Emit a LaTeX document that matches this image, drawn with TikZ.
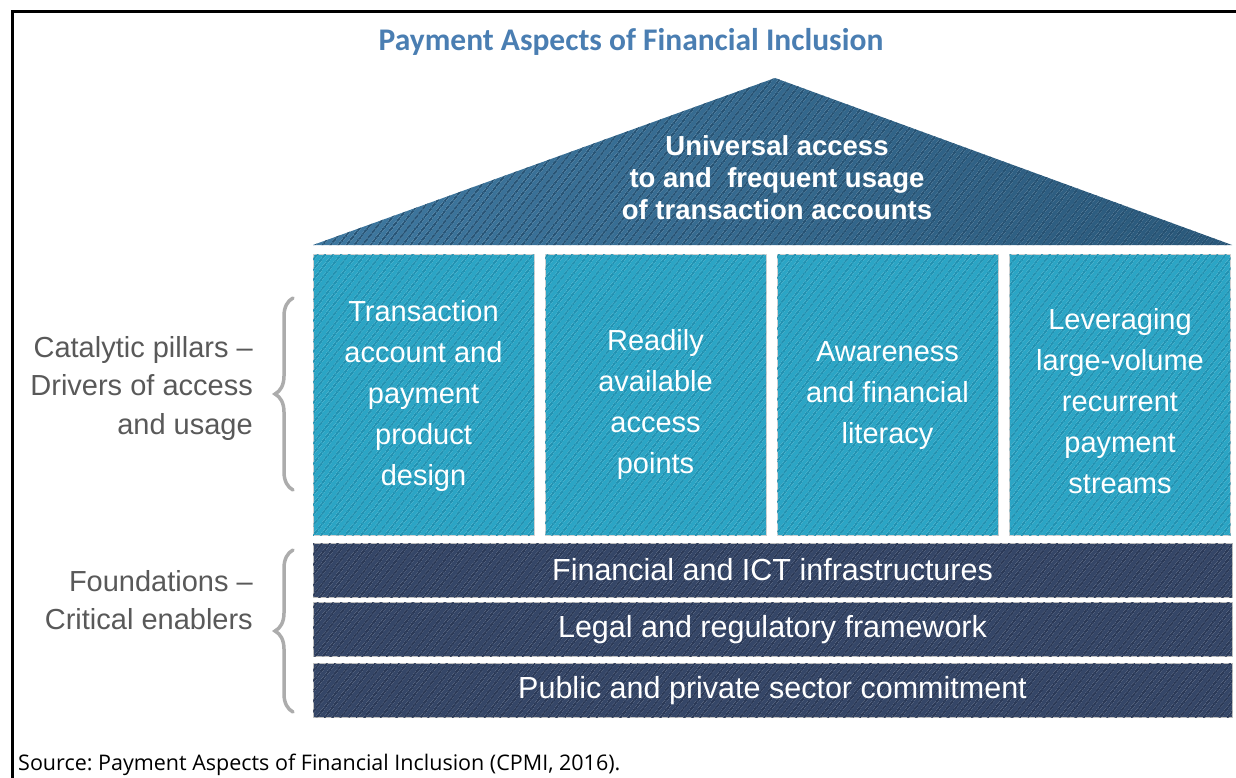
\documentclass[tikz,border=0pt]{standalone}
\usepackage{fontspec}
\setmainfont{Liberation Sans}
\newfontfamily\headfont{Carlito}
\newfontfamily\notefont{Open Sans}
\usetikzlibrary{patterns.meta,decorations.pathreplacing}
\definecolor{Heading}{RGB}{74,126,178}
\definecolor{RoofLight}{RGB}{62,120,160}
\definecolor{RoofDark}{RGB}{42,88,122}
\definecolor{RoofLine}{RGB}{38,80,112}
\definecolor{Pillar}{RGB}{43,165,197}
\definecolor{PillarLine}{RGB}{34,143,174}
\definecolor{Base}{RGB}{53,70,103}
\definecolor{BaseLine}{RGB}{42,56,85}
\definecolor{Label}{RGB}{89,89,89}
\definecolor{Brace}{RGB}{172,172,172}

\begin{document}
\begin{tikzpicture}[
  x=1pt,
  y=-1pt,
  inner sep=0pt,
  stripes/.style={pattern={Lines[angle=52,distance=6.5pt,line width=2pt]},
    pattern color=#1},
  pillar/.style={fill=Pillar, postaction={stripes=PillarLine},
    draw=white!82!black, line width=0.6pt,
    minimum width=221pt, minimum height=281pt},
  pillartext/.style={text=white, align=center, font=\fontsize{29}{41}\selectfont},
  layer/.style={fill=Base, postaction={stripes=BaseLine},
    draw=white!75!black, line width=0.6pt,
    minimum width=919pt, minimum height=54pt,
    text=white, font=\fontsize{30.5}{36}\selectfont},
  side/.style={anchor=east, align=right, text=Label,
    font=\fontsize{29}{38.5}\selectfont},
  bracket/.style={draw=Brace, line width=3.5pt, line cap=round,
    decorate, decoration={brace, amplitude=18pt}}]
\useasboundingbox (0,0) rectangle (1236,778);

% frame of the figure box
\draw[line width=3pt] (1236,12) -- (12,12) -- (12,778);

\node[anchor=base, text=Heading, font=\headfont\bfseries\fontsize{31.5}{36}\selectfont]
  (heading) at (631,51) {Payment Aspects of Financial Inclusion};

% roof
\shade[left color=RoofLight, right color=RoofDark]
  (313,245) -- (775,78) -- (1232,245) -- cycle;
\path[stripes=RoofLine] (313,245) -- (775,78) -- (1232,245) -- cycle;
\node[text=white, align=center, font=\bfseries\fontsize{27.5}{32}\selectfont]
  (goal) at (777,178) {Universal access\\to and~ frequent usage\\of transaction accounts};

% pillars, text shifted a little where the box has fewer lines
\foreach \i/\x/\dy/\txt in {
  1/423.5/1/{Transaction\\account and\\payment\\product\\design},
  2/655.5/10/{Readily\\available\\access\\points},
  3/887.5/1/{Awareness\\and financial\\literacy},
  4/1120/7/{Leveraging\\large-volume\\recurrent\\payment\\streams}}{
  \node[pillar] (pillar\i) at (\x,394.5) {};
  \node[pillartext] (label\i) at ([yshift=-\dy pt]pillar\i.center) {\txt};}

% foundations
\node[layer] (infra) at (772.5,570) {Financial and ICT infrastructures};
\node[layer] (legal) at (772.5,629.5) {Legal and regulatory framework};
\node[layer] (commit) at (772.5,690.5) {Public and private sector commitment};

% side labels and braces
\node[side] (drivers) at (253,388) {Catalytic pillars --\\Drivers of access\\and usage};
\node[side] (enablers) at (253,600) {Foundations --\\Critical enablers};
\coordinate (top1) at (293,298);
\coordinate (bot1) at (293,490);
\coordinate (top2) at (293,550);
\coordinate (bot2) at (293,712);
\draw[bracket] (bot1) -- (top1);
\draw[bracket] (bot2) -- (top2);

\node[anchor=base west, font=\notefont\fontsize{21.5}{26}\selectfont]
  (source) at (18,770) {Source:\ Payment Aspects of Financial Inclusion (CPMI, 2016).};
\end{tikzpicture}
\end{document}
